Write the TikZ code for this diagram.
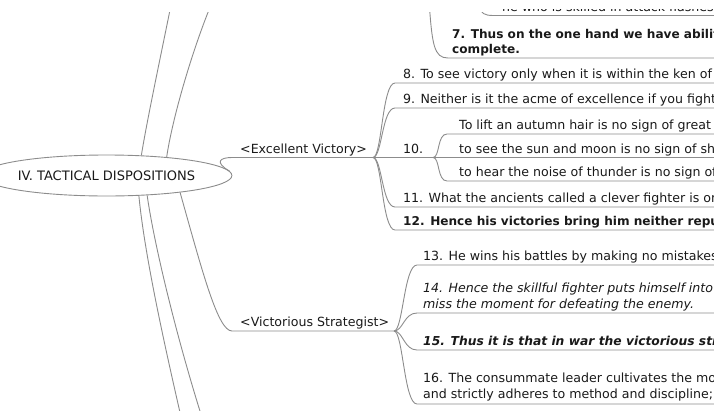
\documentclass[tikz,border=0pt]{standalone}
\usepackage{fontspec}
\setmainfont{DejaVu Sans}
\usetikzlibrary{shapes.geometric}
\definecolor{linegray}{RGB}{140,140,140}
\definecolor{ink}{RGB}{25,25,25}
\newcommand\duo[3][15.5pt]{\vbox{\baselineskip=#1\hbox{#2}\hbox{#3}}}
\begin{document}
\begin{tikzpicture}[x=1pt,y=-1pt,
  conn/.style={draw=linegray,line width=0.9pt},
  txt/.style={anchor=base west,inner sep=0pt,text=ink,font=\fontsize{12.6}{15}\selectfont},
  boldtxt/.style={txt,font=\fontsize{12.1}{15}\selectfont\bfseries},
  ittxt/.style={txt,font=\fontsize{12.6}{15}\selectfont\itshape},
  bittxt/.style={txt,font=\fontsize{12.3}{15}\selectfont\bfseries\itshape},
  root/.style={ellipse,draw=linegray,line width=0.9pt,fill=white,minimum width=209pt,minimum height=41pt,inner sep=0pt,text=ink,font=\fontsize{13}{15}\selectfont}
]
\useasboundingbox (0,0) rectangle (714,410);
\clip (0,0) rectangle (714,410);

% ---------- nodes ----------
\node[root] (c) at (106.5,175.5) {IV. TACTICAL DISPOSITIONS};

\begin{scope}
\clip (0,9) rectangle (714,410);
\node[txt] (n6) at (502,11.5) {he who is skilled in attack flashes forth from the topmost heights of heaven.};
\end{scope}
\node[boldtxt] (n7) at (452,53) {\duo[15pt]{7. Thus on the one hand we have ability to protect ourselves; on the other, a victory that is}{complete.}};

\node[txt] (ev) at (240,153) {<Excellent Victory>};
\node[txt] (n8) at (403,78) {8. To see victory only when it is within the ken of the common herd is not the acme of excellence.};
\node[txt] (n9) at (403,103) {9. Neither is it the acme of excellence if you fight and conquer and the whole Empire says, ``Well done!''};
\node[txt] (n10) at (403,153) {10.};
\node[txt] (n10a) at (459,129) {To lift an autumn hair is no sign of great strength;};
\node[txt] (n10b) at (459,153) {to see the sun and moon is no sign of sharp sight;};
\node[txt] (n10c) at (459,176) {to hear the noise of thunder is no sign of a quick ear.};
\node[txt] (n11) at (403,202) {11. What the ancients called a clever fighter is one who not only wins, but excels in winning with ease.};
\node[boldtxt] (n12) at (403,225) {12. Hence his victories bring him neither reputation for wisdom nor credit for courage.};

\node[txt] (vs) at (240,326) {<Victorious Strategist>};
\node[txt] (n13) at (423,260) {13. He wins his battles by making no mistakes. Making no mistakes is what establishes the certainty of victory.};
\node[ittxt] (n14) at (423,308) {\duo[16pt]{14. Hence the skillful fighter puts himself into a position which makes defeat impossible, and does not}{miss the moment for defeating the enemy.}};
\node[bittxt] (n15) at (423,345) {15. Thus it is that in war the victorious strategist only seeks battle after the victory has been won.};
\node[txt] (n16) at (423,398) {\duo[16pt]{16. The consummate leader cultivates the moral law,}{and strictly adheres to method and discipline; thus it is in his power to control success.}};

% ---------- connector points ----------
\coordinate (rx) at (740,0);
\coordinate (top6) at (478,4);
\coordinate (u6) at (494,15.5);
\coordinate (top7) at (429,0);
\coordinate (u7) at (448,58);
\coordinate (ev0) at (232,157.5);
\coordinate (ev1) at (373,157.5);
\coordinate (u8) at (395,83);
\coordinate (u9) at (395,108);
\coordinate (j10) at (433,157.5);
\coordinate (u10a) at (447,134);
\coordinate (u10c) at (447,181);
\coordinate (u11) at (395,207);
\coordinate (u12) at (395,230);
\coordinate (vs0) at (232,331);
\coordinate (vs1) at (394,331);
\coordinate (u13) at (417,265);
\coordinate (u14) at (417,313);
\coordinate (u15) at (417,350);
\coordinate (u16) at (417,404);
\coordinate (upA) at (172,0);
\coordinate (upB) at (213,0);
\coordinate (dnA) at (184,430);
\coordinate (dnB) at (206,430);

% ---------- connectors ----------
\begin{scope}
\clip (0,12) rectangle (714,410);
% branches leaving the root
\draw[conn] (c.30) .. controls (147,120) and (162,50) .. (upA);
\draw[conn] (c.17) .. controls (172,120) and (192,50) .. (upB);
\draw[conn] (c.-32) .. controls (145,260) and (168,360) .. (dnA);
\draw[conn] (c.-26) .. controls (155,250) and (180,350) .. (dnB);
\draw[conn] (c.2) .. controls (214,162) and (220,157.5) .. (ev0) -- (ev1);
\draw[conn] (c.-13.5) .. controls (203,274) and (218,331) .. (vs0) -- (vs1);
% previous section (top)
\draw[conn] (top6) .. controls (481,14) and (484,15.5) .. (u6) -- (u6 -| rx);
\draw[conn] (top7) .. controls (432,45) and (434,58) .. (u7) -- (u7 -| rx);
% Excellent Victory
\draw[conn] (ev1) .. controls +(9,0) and +(-13,0) .. (u8) -- (u8 -| rx);
\draw[conn] (ev1) .. controls +(9,0) and +(-13,0) .. (u9) -- (u9 -| rx);
\draw[conn] (ev1) -- (j10);
\draw[conn] (ev1) .. controls +(9,0) and +(-13,0) .. (u11) -- (u11 -| rx);
\draw[conn] (ev1) .. controls +(9,0) and +(-13,0) .. (u12) -- (u12 -| rx);
% 10.
\draw[conn] (j10) .. controls +(7,0) and +(-10,0) .. (u10a) -- (u10a -| rx);
\draw[conn] (j10) -- (j10 -| rx);
\draw[conn] (j10) .. controls +(7,0) and +(-10,0) .. (u10c) -- (u10c -| rx);
% Victorious Strategist
\draw[conn] (vs1) .. controls +(9,0) and +(-13,0) .. (u13) -- (u13 -| rx);
\draw[conn] (vs1) .. controls +(9,0) and +(-13,0) .. (u14) -- (u14 -| rx);
\draw[conn] (vs1) .. controls +(9,0) and +(-13,0) .. (u15) -- (u15 -| rx);
\draw[conn] (vs1) .. controls +(9,0) and +(-13,0) .. (u16) -- (u16 -| rx);
\end{scope}
\end{tikzpicture}
\end{document}
